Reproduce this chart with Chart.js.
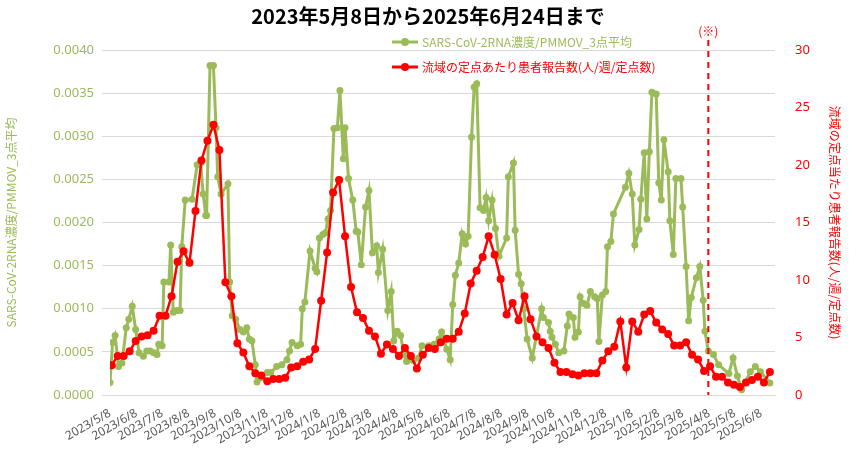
<!DOCTYPE html>
<html><head><meta charset="utf-8">
<script src="https://cdn.jsdelivr.net/npm/chart.js@4"></script>
<style>body{margin:0;background:#fff}#w{width:858px;height:450px}</style>
</head><body><div id="w"><canvas id="c"></canvas></div>
<script>
const startDate = [2023, 5, 8];
const tickLabels = ["2023/5/8","2023/6/8","2023/7/8","2023/8/8","2023/9/8","2023/10/8","2023/11/8","2023/12/8","2024/1/8","2024/2/8","2024/3/8","2024/4/8","2024/5/8","2024/6/8","2024/7/8","2024/8/8","2024/9/8","2024/10/8","2024/11/8","2024/12/8","2025/1/8","2025/2/8","2025/3/8","2025/4/8","2025/5/8","2025/6/8"];
const greenDays = [0,3,6,10,14,19,22,26,30,34,39,43,47,51,55,57,61,63,69,71,74,78,82,84,88,96,102,106,109,112,113,117,121,124,126,130,138,140,143,147,152,156,160,163,166,170,172,178,184,188,195,201,207,210,213,219,223,225,228,234,240,242,245,249,252,255,258,262,266,269,273,275,279,284,288,290,294,299,303,307,312,314,319,325,329,332,336,340,344,347,355,361,365,373,379,385,388,394,398,401,404,408,412,416,419,423,426,429,433,437,440,443,447,451,455,464,466,472,474,478,481,484,488,494,505,507,513,515,517,521,525,531,535,537,542,544,548,550,554,558,562,567,570,572,576,580,582,586,589,603,607,611,614,619,621,625,628,631,634,639,642,645,648,653,655,659,662,668,670,674,677,680,686,690,694,696,700,706,712,724,729,734,739,749,755,761,772];
const greenVals = [0.000145,0.00061,0.00069,0.00033,0.00037,0.00078,0.00088,0.00103,0.00076,0.00049,0.00045,0.00051,0.00051,0.00049,0.00047,0.00059,0.00057,0.00131,0.00131,0.00174,0.00096,0.00098,0.00098,0.00172,0.00226,0.00227,0.00267,0.00269,0.00233,0.00208,0.00208,0.00382,0.00382,0.00310,0.00253,0.00233,0.00245,0.00131,0.00092,0.00088,0.00076,0.00073,0.00078,0.00065,0.00063,0.00035,0.00015,0.00020,0.00026,0.00026,0.00033,0.00035,0.00041,0.00051,0.00061,0.00057,0.00059,0.00100,0.00108,0.00167,0.00147,0.00143,0.00182,0.00186,0.00188,0.00204,0.00214,0.00309,0.00310,0.00353,0.00274,0.00310,0.00251,0.00226,0.00190,0.00189,0.00151,0.00218,0.00237,0.00165,0.00173,0.00142,0.00169,0.00098,0.00120,0.00063,0.00074,0.00069,0.00047,0.00039,0.00040,0.00043,0.00057,0.00057,0.00059,0.00065,0.00073,0.00053,0.00041,0.00105,0.00139,0.00153,0.00187,0.00175,0.00184,0.00299,0.00357,0.00361,0.00217,0.00214,0.00229,0.00202,0.00226,0.00193,0.00161,0.00182,0.00253,0.00269,0.00191,0.00140,0.00129,0.00100,0.00065,0.00043,0.00100,0.00090,0.00084,0.00074,0.00067,0.00059,0.00049,0.00051,0.00080,0.00094,0.00090,0.00067,0.00073,0.00114,0.00106,0.00104,0.00120,0.00114,0.00112,0.00062,0.00116,0.00120,0.00172,0.00178,0.00210,0.00241,0.00257,0.00233,0.00174,0.00192,0.00227,0.00281,0.00204,0.00282,0.00351,0.00349,0.00246,0.00226,0.00296,0.00259,0.00202,0.00163,0.00251,0.00251,0.00218,0.00149,0.00086,0.00113,0.00136,0.00149,0.00110,0.00074,0.00051,0.00047,0.00035,0.00025,0.00043,0.00022,0.00006,0.00027,0.00033,0.00027,0.00014];
const redWeekly = [2.6,3.4,3.4,3.8,4.7,5.1,5.2,5.6,6.9,6.9,8.6,11.6,12.5,11.5,16.0,20.4,22.1,23.5,21.3,9.8,8.6,4.5,3.7,2.5,1.9,1.7,1.2,1.4,1.4,1.5,2.4,2.5,2.9,3.1,4.0,8.2,12.4,17.6,18.7,13.8,9.4,7.2,6.7,5.6,5.1,3.6,4.4,4.0,3.4,4.1,3.4,2.3,3.5,4.1,4.0,4.6,4.9,4.9,5.5,7.1,9.7,10.8,12.0,13.8,12.2,10.1,7.0,8.0,6.5,8.6,6.6,5.1,4.6,4.1,2.8,2.0,2.0,1.8,1.7,1.9,1.9,1.9,3.0,3.8,4.2,6.4,2.4,6.4,5.5,7.0,7.3,6.3,5.7,5.3,4.3,4.3,4.6,3.5,3.1,2.1,2.5,1.6,1.6,1.1,0.9,0.7,1.1,1.3,1.6,1.1,2.0];
const markerDay = 700;
const endDay = 778;

const G = '#9BBB59', R = '#FF0000';
const t0 = Date.UTC(startDate[0], startDate[1]-1, startDate[2]);
const tickDays = tickLabels.map(s => { const [y,m,d] = s.split('/').map(Number); return Math.round((Date.UTC(y,m-1,d)-t0)/86400000); });
const labelByDay = {}; tickDays.forEach((d,i)=>labelByDay[d]=tickLabels[i]);

const extras = {
  id:'extras',
  afterDraw(ch){
    const c = ch.ctx, x = ch.scales.x, a = ch.chartArea;
    const px = x.getPixelForValue(markerDay);
    c.save();
    c.strokeStyle = R; c.lineWidth = 2; c.setLineDash([6,5]);
    c.beginPath(); c.moveTo(px, a.top-10); c.lineTo(px, a.bottom); c.stroke();
    c.setLineDash([]);
    c.fillStyle = R; c.font = '12px "Noto Sans CJK JP"'; c.textAlign='center';
    c.fillText('(※)', px, a.top-14);
    const items = [[G,'SARS-CoV-2RNA濃度/PMMOV_3点平均', a.top-8],[R,'流域の定点あたり患者報告数(人/週/定点数)', a.top+17]];
    c.textAlign='left'; c.textBaseline='middle'; c.font='12px "Noto Sans CJK JP"';
    items.forEach(([col,t,y])=>{
      const lx = 392;
      c.strokeStyle = col; c.lineWidth = 3;
      c.beginPath(); c.moveTo(lx,y); c.lineTo(lx+26,y); c.stroke();
      c.fillStyle = col; c.beginPath(); c.arc(lx+13,y,4,0,Math.PI*2); c.fill();
      c.fillText(t, lx+30, y);
    });
    c.restore();
  }
};

new Chart(document.getElementById('c'), {
  type:'line',
  data:{datasets:[
    {label:'SARS-CoV-2RNA濃度/PMMOV_3点平均', data: greenDays.map((d,i)=>({x:d,y:greenVals[i]})), borderColor:G, backgroundColor:G, borderWidth:3, pointRadius:3.5, pointBorderWidth:0, yAxisID:'y', order:2},
    {label:'流域の定点あたり患者報告数(人/週/定点数)', data: redWeekly.map((v,i)=>({x:i*7+2,y:v})), borderColor:R, backgroundColor:R, borderWidth:2.5, pointRadius:4, pointBorderWidth:0, yAxisID:'y1', order:1}
  ]},
  plugins:[extras],
  options:{
    responsive:true, maintainAspectRatio:false, animation:false,
    layout:{padding:{top:4,right:6,left:4,bottom:0}},
    plugins:{
      legend:{display:false}, tooltip:{enabled:false},
      title:{display:true, text:'2023年5月8日から2025年6月24日まで', color:'#000', font:{size:20, weight:'bold', family:'"Noto Sans CJK JP"'}, padding:{top:0,bottom:22}}
    },
    scales:{
      x:{type:'linear', min:0, max:endDay,
        afterBuildTicks(s){ s.ticks = tickDays.map(v=>({value:v})); },
        ticks:{autoSkip:false, maxRotation:30, minRotation:30, color:'#595959', font:{size:12, family:'"Noto Sans"'}, callback:v=>labelByDay[v]||''},
        grid:{display:false}, border:{color:'#d9d9d9'}},
      y:{position:'left', min:0, max:0.004, afterFit(s){ s.width = 106; },
        ticks:{stepSize:0.0005, color:G, padding:8, font:{size:13, family:'"Noto Sans"'}, callback:v=>v.toFixed(4)},
        grid:{color:'#d9d9d9'}, border:{display:false},
        title:{display:true, text:'SARS-CoV-2RNA濃度/PMMOV_3点平均', color:G, padding:{top:0,bottom:6}, font:{size:12, family:'"Noto Sans CJK JP"'}}},
      y1:{position:'right', min:0, max:30, afterFit(s){ s.width = 77; },
        ticks:{stepSize:5, color:R, padding:12, font:{size:13, family:'"Noto Sans"'}},
        grid:{display:false}, border:{display:false},
        title:{display:true, text:'流域の定点当たり患者報告数(人/週/定点数)', color:R, padding:{top:10,bottom:0}, font:{size:12, family:'"Noto Sans CJK JP"'}}}
    }
  }
});
</script></body></html>
